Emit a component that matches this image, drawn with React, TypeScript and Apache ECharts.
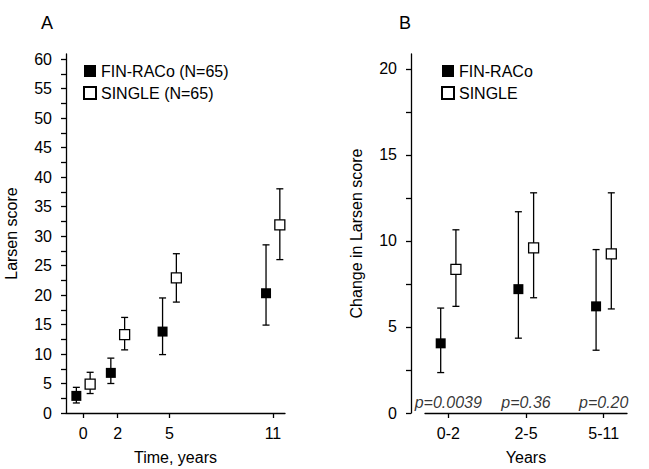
import React, { useEffect, useRef } from "react";
import * as echarts from "echarts";

// Panel A: Larsen score over time
const yearsA = [0, 2, 5, 11];
const finA = [2.9, 6.8, 13.8, 20.3];
const finALow = [1.7, 5.0, 9.9, 14.9];
const finAHigh = [4.35, 9.3, 19.5, 28.5];
const singleA = [4.9, 13.3, 22.9, 31.9];
const singleALow = [3.3, 10.7, 18.8, 26.0];
const singleAHigh = [6.9, 16.2, 27.0, 38.0];
const yTicksA = [0, 5, 10, 15, 20, 25, 30, 35, 40, 45, 50, 55, 60];

// Panel B: change in Larsen score by period
const periodsB = ["0-2", "2-5", "5-11"];
const finB = [4.05, 7.2, 6.2];
const finBLow = [2.35, 4.35, 3.65];
const finBHigh = [6.1, 11.7, 9.5];
const singleB = [8.35, 9.6, 9.25];
const singleBLow = [6.2, 6.7, 6.05];
const singleBHigh = [10.65, 12.8, 12.8];
const pValues = ["p=0.0039", "p=0.36", "p=0.20"];
const yTicksB = [0, 5, 10, 15, 20];

const FONT = "'Liberation Sans', Arial, sans-serif";
const FS = 16;
const OFF_A = 0.4;
const OFF_B = 0.098;

function errRender(params: any, api: any) {
  const x = api.value(0);
  const lo = api.value(1);
  const hi = api.value(2);
  const pLo = api.coord([x, lo]);
  const pHi = api.coord([x, hi]);
  const hw = 3.5;
  const style = { stroke: "#000", lineWidth: 1.3 };
  return {
    type: "group",
    children: [
      { type: "line", shape: { x1: pHi[0], y1: pHi[1], x2: pLo[0], y2: pLo[1] }, style },
      { type: "line", shape: { x1: pHi[0] - hw, y1: pHi[1], x2: pHi[0] + hw, y2: pHi[1] }, style },
      { type: "line", shape: { x1: pLo[0] - hw, y1: pLo[1], x2: pLo[0] + hw, y2: pLo[1] }, style },
    ],
  };
}

function minorValues(max: number, step: number) {
  const out: number[] = [];
  for (let v = 0; v <= max + 1e-9; v += step) out.push(v);
  return out;
}

export default function App() {
  const ref = useRef<HTMLDivElement>(null);
  useEffect(() => {
    if (!ref.current) return;
    const chart = echarts.init(ref.current, null, { renderer: "svg" });
    const axisLine = { show: true, onZero: false, lineStyle: { color: "#000", width: 1.3 } };
    const tickStyle = { color: "#000", width: 1.3 };
    const labelStyle = { color: "#000", fontSize: FS, fontFamily: FONT };
    const nameStyle = { color: "#000", fontSize: FS, fontFamily: FONT };

    const finAName = "FIN-RACo (N=65)";
    const singleAName = "SINGLE (N=65)";
    const finBName = "FIN-RACo";
    const singleBName = "SINGLE";

    const legendBase = {
      orient: "vertical",
      top: 63,
      padding: 0,
      itemWidth: 12,
      itemHeight: 12,
      itemGap: 6,
      selectedMode: false,
      textStyle: { color: "#000", fontSize: FS, fontFamily: FONT },
    };

    const option: any = {
      animation: false,
      backgroundColor: "#fff",
      textStyle: { fontFamily: FONT },
      grid: [
        { left: 66, top: 54, width: 219, height: 359, outerBoundsMode: "none" },
        { left: 425, top: 54, width: 202, height: 359, outerBoundsMode: "none" },
      ],
      xAxis: [
        {
          gridIndex: 0,
          type: "value",
          min: -1,
          max: 11.7,
          splitLine: { show: false },
          axisLine,
          axisTick: { show: true, length: 5, customValues: yearsA, lineStyle: tickStyle },
          axisLabel: { ...labelStyle, margin: 12, customValues: yearsA },
          name: "Time, years",
          nameLocation: "middle",
          nameGap: 36,
          nameTextStyle: nameStyle,
        },
        {
          gridIndex: 1,
          type: "value",
          min: 0.7,
          max: 3.3,
          splitLine: { show: false },
          axisLine,
          axisTick: { show: true, length: 5, customValues: [1, 2, 3], lineStyle: tickStyle },
          axisLabel: {
            ...labelStyle,
            margin: 12,
            customValues: [1, 2, 3],
            formatter: (v: number) => periodsB[Math.round(v) - 1] ?? "",
          },
          name: "Years",
          nameLocation: "middle",
          nameGap: 36,
          nameTextStyle: nameStyle,
        },
      ],
      yAxis: [
        {
          gridIndex: 0,
          type: "value",
          min: 0,
          max: 60.85,
          splitLine: { show: false },
          axisLine,
          axisTick: { show: true, length: 5, customValues: minorValues(60, 2.5), lineStyle: tickStyle },
          axisLabel: { ...labelStyle, margin: 14, customValues: yTicksA },
          name: "Larsen score",
          nameLocation: "middle",
          nameGap: 47,
          nameRotate: 90,
          nameTextStyle: nameStyle,
        },
        {
          gridIndex: 1,
          type: "value",
          min: 0,
          max: 20.87,
          offset: 14,
          splitLine: { show: false },
          axisLine,
          axisTick: { show: true, length: 5, customValues: minorValues(20, 2.5), lineStyle: tickStyle },
          axisLabel: { ...labelStyle, margin: 14, customValues: yTicksB },
          name: "Change in Larsen score",
          nameLocation: "middle",
          nameGap: 47,
          nameRotate: 90,
          nameTextStyle: nameStyle,
        },
      ],
      legend: [
        { ...legendBase, left: 83, data: [finAName, singleAName] },
        { ...legendBase, left: 441, data: [finBName, singleBName] },
      ],
      graphic: [
        { type: "text", left: 41, top: 14, style: { text: "A", fontSize: 18, fontFamily: FONT, fill: "#000" } },
        { type: "text", left: 399, top: 14, style: { text: "B", fontSize: 18, fontFamily: FONT, fill: "#000" } },
      ],
      series: [
        {
          type: "custom",
          xAxisIndex: 0,
          yAxisIndex: 0,
          z: 1,
          renderItem: errRender,
          data: yearsA.map((x, i) => [x - OFF_A, finALow[i], finAHigh[i]]),
          silent: true,
        },
        {
          type: "custom",
          xAxisIndex: 0,
          yAxisIndex: 0,
          z: 1,
          renderItem: errRender,
          data: yearsA.map((x, i) => [x + OFF_A, singleALow[i], singleAHigh[i]]),
          silent: true,
        },
        {
          name: finAName,
          type: "scatter",
          xAxisIndex: 0,
          yAxisIndex: 0,
          z: 3,
          symbol: "rect",
          symbolSize: 10,
          itemStyle: { color: "#000", opacity: 1 },
          data: yearsA.map((x, i) => [x - OFF_A, finA[i]]),
        },
        {
          name: singleAName,
          type: "scatter",
          xAxisIndex: 0,
          yAxisIndex: 0,
          z: 3,
          symbol: "rect",
          symbolSize: 10,
          itemStyle: { color: "#fff", borderColor: "#000", borderWidth: 1.3, opacity: 1 },
          data: yearsA.map((x, i) => [x + OFF_A, singleA[i]]),
        },
        {
          type: "custom",
          xAxisIndex: 1,
          yAxisIndex: 1,
          z: 1,
          renderItem: errRender,
          data: periodsB.map((_, i) => [i + 1 - OFF_B, finBLow[i], finBHigh[i]]),
          silent: true,
        },
        {
          type: "custom",
          xAxisIndex: 1,
          yAxisIndex: 1,
          z: 1,
          renderItem: errRender,
          data: periodsB.map((_, i) => [i + 1 + OFF_B, singleBLow[i], singleBHigh[i]]),
          silent: true,
        },
        {
          name: finBName,
          type: "scatter",
          xAxisIndex: 1,
          yAxisIndex: 1,
          z: 3,
          symbol: "rect",
          symbolSize: 10,
          itemStyle: { color: "#000", opacity: 1 },
          data: periodsB.map((_, i) => [i + 1 - OFF_B, finB[i]]),
        },
        {
          name: singleBName,
          type: "scatter",
          xAxisIndex: 1,
          yAxisIndex: 1,
          z: 3,
          symbol: "rect",
          symbolSize: 10,
          itemStyle: { color: "#fff", borderColor: "#000", borderWidth: 1.3, opacity: 1 },
          data: periodsB.map((_, i) => [i + 1 + OFF_B, singleB[i]]),
        },
        {
          type: "scatter",
          xAxisIndex: 1,
          yAxisIndex: 1,
          z: 4,
          symbolSize: 0,
          silent: true,
          data: pValues.map((p, i) => ({ value: [i + 1, 0], name: p })),
          label: {
            show: true,
            position: "top",
            distance: 3,
            formatter: (p: any) => p.name,
            color: "#000",
            fontSize: FS,
            fontStyle: "italic",
            fontFamily: FONT,
          },
        },
      ],
    };
    chart.setOption(option);
    return () => chart.dispose();
  }, []);
  return (
    <div
      ref={ref}
      style={{ position: "fixed", left: 0, top: 0, width: 649, height: 469, background: "#fff" }}
    />
  );
}
